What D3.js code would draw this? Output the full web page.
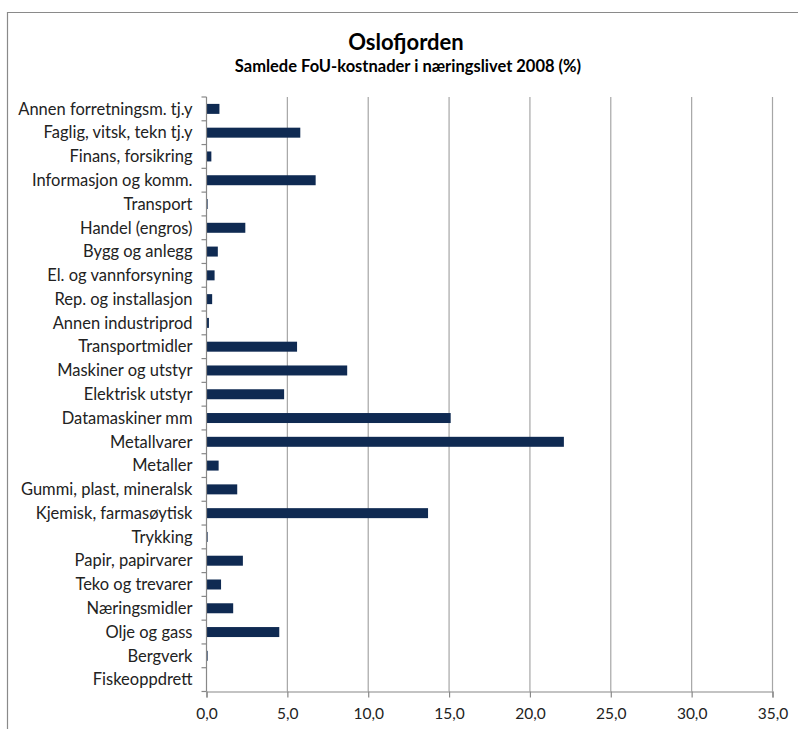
<!DOCTYPE html>
<html>
<head>
<meta charset="utf-8">
<script src="https://cdn.jsdelivr.net/npm/d3@7"></script>
<style>
  body { margin: 0; background: #fff; }
  svg { display: block; font-family: Lato, "Open Sans", sans-serif; }
</style>
</head>
<body>
<svg id="chart" width="798" height="729"></svg>
<script>
// categories top to bottom
var categories = ["Annen forretningsm. tj.y", "Faglig, vitsk, tekn tj.y", "Finans, forsikring",
  "Informasjon og komm.", "Transport", "Handel (engros)", "Bygg og anlegg",
  "El. og vannforsyning", "Rep. og installasjon", "Annen industriprod",
  "Transportmidler", "Maskiner og utstyr", "Elektrisk utstyr", "Datamaskiner mm",
  "Metallvarer", "Metaller", "Gummi, plast, mineralsk", "Kjemisk, farmasøytisk",
  "Trykking", "Papir, papirvarer", "Teko og trevarer", "Næringsmidler",
  "Olje og gass", "Bergverk", "Fiskeoppdrett"];
var values = [0.8, 5.8, 0.3, 6.75, 0.07, 2.4, 0.7, 0.5, 0.35, 0.15,
  5.6, 8.7, 4.8, 15.1, 22.1, 0.75, 1.9, 13.7, 0.07, 2.25, 0.9, 1.65, 4.5, 0.07, 0];
var xTicks = [0, 5, 10, 15, 20, 25, 30, 35];

var title = "Oslofjorden";
var subtitle = "Samlede FoU-kostnader i næringslivet 2008 (%)";

var svg = d3.select("#chart");
var margin = {left: 206.5, top: 97, right: 25.5, bottom: 37.5};
var width = 798 - margin.left - margin.right;
var height = 729 - margin.top - margin.bottom;

// outer frame (only top and left edges fall inside the picture)
svg.append("path")
    .attr("d", "M7.5,729 V12.5 H798")
    .attr("fill", "none")
    .attr("stroke", "#8a8a8a")
    .attr("stroke-width", 1.2);

svg.append("text")
    .attr("x", 406).attr("y", 50)
    .attr("text-anchor", "middle")
    .attr("font-size", 22).attr("font-weight", "bold")
    .attr("fill", "#000")
    .text(title);
svg.append("text")
    .attr("x", 408).attr("y", 72)
    .attr("text-anchor", "middle")
    .attr("font-size", 16.5).attr("font-weight", "bold")
    .attr("fill", "#000")
    .text(subtitle);

var x = d3.scaleLinear().domain([0, 35]).range([0, width]);
var y = d3.scaleBand().domain(categories).range([0, height]).paddingInner(0.58).paddingOuter(0.29);

var g = svg.append("g")
    .attr("transform", "translate(" + margin.left + "," + margin.top + ")");

// vertical gridlines
g.selectAll(".grid")
    .data(xTicks.slice(1))
    .enter().append("line")
    .attr("class", "grid")
    .attr("x1", function(d) { return x(d); })
    .attr("x2", function(d) { return x(d); })
    .attr("y1", 0).attr("y2", height)
    .attr("stroke", "#a6a6a6")
    .attr("stroke-width", 1.2);

g.selectAll(".bar")
    .data(values)
    .enter().append("rect")
    .attr("class", "bar")
    .attr("x", x(0))
    .attr("y", function(d, i) { return y(categories[i]); })
    .attr("width", function(d) { return x(d) - x(0); })
    .attr("height", y.bandwidth())
    .attr("fill", "#0f2a52");

// x axis
var xAxis = d3.axisBottom(x)
    .tickValues(xTicks)
    .tickSize(6)
    .tickFormat(function(d) { return d3.format(".1f")(d).replace(".", ","); });
var xg = g.append("g")
    .attr("transform", "translate(0," + height + ")")
    .call(xAxis);
xg.select(".domain").attr("stroke", "#888").attr("stroke-width", 1.2);
xg.selectAll(".tick line").attr("stroke", "#888").attr("stroke-width", 1.2);
xg.selectAll("text")
    .attr("font-family", "Lato, sans-serif")
    .attr("font-size", 15.5).attr("fill", "#222")
    .attr("dy", "1.2em");

// y axis: ticks sit on band boundaries
var step = y.step();
var yg = g.append("g");
yg.append("line")
    .attr("x1", 0).attr("x2", 0).attr("y1", 0).attr("y2", height)
    .attr("stroke", "#888").attr("stroke-width", 1.2);
yg.selectAll(".ytick")
    .data(d3.range(categories.length + 1))
    .enter().append("line")
    .attr("class", "ytick")
    .attr("x1", -5).attr("x2", 0)
    .attr("y1", function(i) { return i * step; })
    .attr("y2", function(i) { return i * step; })
    .attr("stroke", "#888").attr("stroke-width", 1.2);
yg.selectAll(".ylabel")
    .data(categories)
    .enter().append("text")
    .attr("class", "ylabel")
    .attr("x", -14)
    .attr("y", function(d) { return y(d) + y.bandwidth() / 2; })
    .attr("dy", "0.35em")
    .attr("text-anchor", "end")
    .attr("font-size", 16.5)
    .attr("fill", "#222")
    .text(function(d) { return d; });
</script>
</body>
</html>
